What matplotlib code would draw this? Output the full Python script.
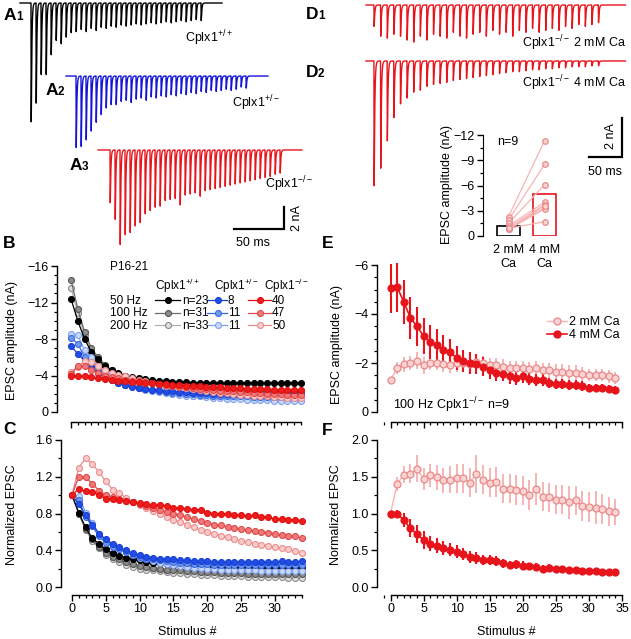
import numpy as np
import matplotlib
matplotlib.use('Agg')
import matplotlib.pyplot as plt
from matplotlib.ticker import MultipleLocator, NullFormatter

W, H = 631, 639
FS = 9
FS_LEG = 8.5

# ---- A: example traces, 200 Hz, peak amplitudes (nA) ----
a1_peaks = [10.8, 9.1, 6.5, 6.5, 4.7, 3.4, 3.7, 3.1, 2.7, 2.6, 2.4, 2.6, 2.3, 2.5, 2.2, 2.3, 2.1,
            2.2, 2.0, 2.1, 2.0, 1.9, 2.0, 1.9, 1.8, 1.9, 1.8, 1.7, 1.8, 1.7, 1.6, 1.7, 1.6, 1.5, 1.6]
a2_peaks = [6.5, 6.4, 5.8, 5.0, 4.2, 3.5, 2.9, 2.6, 2.6, 2.3, 2.2, 2.4, 2.1, 2.0, 2.2, 1.9, 2.0,
            1.8, 1.9, 1.7, 1.8, 1.6, 1.7, 1.5, 1.6, 1.4, 1.5, 1.3, 1.4, 1.3, 1.2, 1.3, 1.2, 1.0, 1.1]
a3_peaks = [4.8, 6.3, 8.6, 7.7, 7.5, 6.9, 6.6, 5.8, 5.5, 5.2, 5.1, 4.6, 4.5, 4.4, 5.0, 4.1, 4.0,
            3.9, 4.2, 3.7, 3.6, 3.5, 3.4, 3.3, 3.2, 3.1, 3.0, 2.9, 2.8, 2.7, 2.6, 2.5, 2.4, 2.2, 2.1]

# ---- D: Cplx1-/- traces, 100 Hz ----
d1_peaks = [1.1, 1.6, 1.7, 1.5, 1.6, 1.8, 1.9, 1.6, 1.8, 1.5, 1.6, 1.7, 1.4, 1.6, 1.7, 1.5, 1.4,
            1.6, 1.3, 1.5, 1.4, 1.6, 1.3, 1.4, 1.2, 1.4, 1.3, 1.2, 1.3, 1.1, 1.2, 1.0, 1.1, 1.0, 0.9]
d2_peaks = [6.4, 5.5, 4.1, 2.9, 2.2, 1.9, 1.6, 1.5, 1.3, 1.2, 1.15, 1.1, 1.0, 0.95, 0.9, 0.85, 0.8,
            0.75, 0.7, 0.65, 0.6, 0.55, 0.55, 0.5, 0.45, 0.45, 0.4, 0.4, 0.35, 0.35, 0.3, 0.3, 0.3, 0.25, 0.25]

# ---- D inset: first EPSC (nA), n=9 ----
inset_2mm = [-2.3, -1.9, -1.5, -1.2, -1.0, -0.9, -0.8, -0.8, -0.9]
inset_4mm = [-11.3, -8.5, -6.1, -4.0, -3.7, -3.3, -3.2, -3.6, -1.7]
inset_means = [-1.2, -5.0]
inset_labels = ['2 mM\nCa', '4 mM\nCa']

stim = np.arange(35)

# ---- B: EPSC amplitude (nA) ----
b_wt50 = [-12.4, -10.0, -8.0, -6.6, -5.8, -5.0, -4.6, -4.3, -4.0, -3.8, -3.7, -3.6, -3.5, -3.4, -3.4, -3.3, -3.3,
          -3.3, -3.2, -3.2, -3.2, -3.2, -3.2, -3.2, -3.2, -3.2, -3.2, -3.2, -3.2, -3.2, -3.2, -3.2, -3.2, -3.2, -3.2]
b_wt100 = [-14.5, -11.3, -8.8, -7.0, -6.0, -5.2, -4.6, -4.2, -3.9, -3.6, -3.4, -3.3, -3.2, -3.0, -2.9, -2.85, -2.8,
           -2.7, -2.65, -2.6, -2.55, -2.5, -2.45, -2.4, -2.4, -2.35, -2.3, -2.3, -2.3, -2.25, -2.25, -2.2, -2.2, -2.2, -2.2]
b_wt200 = [-13.6, -10.9, -8.4, -6.8, -5.7, -4.8, -4.1, -3.7, -3.3, -3.0, -2.8, -2.6, -2.4, -2.3, -2.2, -2.1, -2.0,
           -1.9, -1.8, -1.75, -1.7, -1.65, -1.6, -1.55, -1.5, -1.5, -1.45, -1.4, -1.4, -1.4, -1.35, -1.35, -1.3, -1.3, -1.3]
b_het50 = [-7.2, -6.4, -5.6, -4.9, -4.3, -3.7, -3.5, -3.2, -2.95, -2.75, -2.6, -2.5, -2.45, -2.4, -2.3, -2.25, -2.2,
           -2.15, -2.1, -2.1, -2.05, -2.0, -2.0, -2.0, -2.0, -2.0, -2.0, -2.0, -2.0, -2.0, -2.0, -2.0, -2.0, -2.0, -2.0]
b_het100 = [-8.1, -7.5, -6.0, -5.3, -4.5, -3.9, -3.5, -3.2, -3.0, -2.8, -2.6, -2.5, -2.4, -2.3, -2.2, -2.1, -2.05,
            -2.0, -1.95, -1.9, -1.85, -1.8, -1.8, -1.75, -1.7, -1.7, -1.7, -1.65, -1.65, -1.6, -1.6, -1.6, -1.6, -1.6, -1.6]
b_het200 = [-8.5, -8.4, -6.8, -6.0, -4.9, -4.3, -3.8, -3.4, -3.1, -2.8, -2.6, -2.4, -2.3, -2.2, -2.1, -2.0, -1.9,
            -1.8, -1.75, -1.7, -1.6, -1.55, -1.5, -1.45, -1.4, -1.4, -1.35, -1.3, -1.3, -1.3, -1.25, -1.25, -1.2, -1.2, -1.2]
b_ko50 = [-3.9, -4.0, -3.9, -3.8, -3.7, -3.6, -3.5, -3.45, -3.4, -3.3, -3.25, -3.2, -3.15, -3.1, -3.05, -3.0, -2.95,
          -2.9, -2.85, -2.8, -2.75, -2.7, -2.7, -2.65, -2.6, -2.6, -2.55, -2.5, -2.5, -2.5, -2.45, -2.45, -2.4, -2.4, -2.4]
b_ko100 = [-4.2, -5.0, -5.0, -4.6, -4.3, -4.0, -3.8, -3.7, -3.55, -3.45, -3.35, -3.25, -3.15, -3.05, -2.95, -2.85, -2.75,
           -2.7, -2.6, -2.55, -2.5, -2.4, -2.35, -2.3, -2.25, -2.2, -2.15, -2.1, -2.05, -2.0, -2.0, -1.95, -1.9, -1.9, -1.9]
b_ko200 = [-4.4, -4.9, -5.6, -5.5, -5.0, -4.6, -4.3, -4.1, -3.9, -3.7, -3.5, -3.35, -3.2, -3.05, -2.9, -2.8, -2.7,
           -2.6, -2.5, -2.4, -2.3, -2.2, -2.1, -2.05, -2.0, -1.9, -1.85, -1.8, -1.75, -1.7, -1.65, -1.6, -1.55, -1.5, -1.5]

# ---- C: normalized EPSC ----
c_wt50 = [1.0, 0.81, 0.65, 0.53, 0.47, 0.41, 0.37, 0.34, 0.32, 0.30, 0.29, 0.27, 0.26, 0.26, 0.25, 0.24, 0.24, 0.23,
          0.23, 0.23, 0.22, 0.22, 0.22, 0.22, 0.22, 0.22, 0.22, 0.22, 0.22, 0.22, 0.22, 0.22, 0.22, 0.22, 0.22]
c_wt100 = [1.0, 0.80, 0.63, 0.52, 0.43, 0.37, 0.33, 0.30, 0.27, 0.25, 0.23, 0.22, 0.21, 0.20, 0.19, 0.18, 0.18, 0.17,
           0.17, 0.16, 0.16, 0.16, 0.15, 0.15, 0.15, 0.15, 0.14, 0.14, 0.14, 0.14, 0.14, 0.14, 0.14, 0.14, 0.14]
c_wt200 = [1.0, 0.80, 0.62, 0.50, 0.42, 0.35, 0.30, 0.27, 0.24, 0.22, 0.20, 0.19, 0.18, 0.17, 0.16, 0.15, 0.15, 0.14,
           0.14, 0.13, 0.13, 0.13, 0.12, 0.12, 0.12, 0.12, 0.11, 0.11, 0.11, 0.11, 0.11, 0.11, 0.10, 0.10, 0.10]
c_het50 = [1.0, 0.90, 0.78, 0.68, 0.58, 0.52, 0.47, 0.43, 0.40, 0.37, 0.35, 0.33, 0.32, 0.31, 0.30, 0.30, 0.29, 0.29,
           0.28, 0.28, 0.28, 0.27, 0.27, 0.27, 0.27, 0.27, 0.27, 0.27, 0.27, 0.27, 0.27, 0.28, 0.27, 0.27, 0.28]
c_het100 = [1.0, 0.95, 0.76, 0.66, 0.55, 0.48, 0.44, 0.41, 0.38, 0.35, 0.33, 0.31, 0.30, 0.29, 0.28, 0.27, 0.26, 0.26,
            0.25, 0.25, 0.25, 0.24, 0.24, 0.24, 0.24, 0.24, 0.24, 0.24, 0.24, 0.24, 0.24, 0.24, 0.24, 0.24, 0.24]
c_het200 = [1.0, 0.99, 0.81, 0.70, 0.58, 0.50, 0.45, 0.41, 0.38, 0.35, 0.32, 0.30, 0.28, 0.26, 0.25, 0.24, 0.23, 0.22,
            0.21, 0.21, 0.20, 0.20, 0.19, 0.19, 0.18, 0.18, 0.18, 0.18, 0.17, 0.17, 0.17, 0.17, 0.17, 0.17, 0.17]
c_ko50 = [1.0, 1.07, 1.04, 1.03, 1.0, 0.96, 0.96, 0.95, 0.94, 0.92, 0.91, 0.90, 0.89, 0.89, 0.88, 0.86, 0.86, 0.85,
          0.84, 0.84, 0.81, 0.80, 0.80, 0.79, 0.78, 0.78, 0.77, 0.78, 0.76, 0.76, 0.74, 0.74, 0.73, 0.73, 0.72]
c_ko100 = [1.0, 1.20, 1.20, 1.12, 1.05, 1.00, 0.98, 0.96, 0.94, 0.92, 0.90, 0.88, 0.86, 0.84, 0.82, 0.80, 0.78, 0.76,
           0.74, 0.72, 0.70, 0.68, 0.67, 0.65, 0.64, 0.63, 0.62, 0.61, 0.60, 0.59, 0.58, 0.57, 0.56, 0.55, 0.53]
c_ko200 = [1.0, 1.30, 1.40, 1.34, 1.25, 1.15, 1.06, 1.02, 0.97, 0.93, 0.89, 0.86, 0.83, 0.80, 0.76, 0.73, 0.71, 0.68,
           0.65, 0.62, 0.60, 0.58, 0.56, 0.54, 0.52, 0.50, 0.49, 0.47, 0.46, 0.45, 0.43, 0.42, 0.41, 0.39, 0.37]

# ---- E / F: Cplx1-/- 100 Hz, 2 vs 4 mM Ca ----
e_2mm = [-1.3, -1.8, -1.95, -2.0, -2.1, -1.9, -2.0, -2.0, -1.95, -1.9, -2.0, -2.0, -1.95, -2.05, -2.0, -1.9, -1.9, -1.85,
         -1.8, -1.8, -1.8, -1.75, -1.8, -1.7, -1.7, -1.65, -1.65, -1.6, -1.6, -1.55, -1.5, -1.5, -1.5, -1.45, -1.4]
e_2mm_err = [0.1, 0.25, 0.3, 0.3, 0.35, 0.35, 0.3, 0.3, 0.3, 0.3, 0.35, 0.3, 0.3, 0.3, 0.3, 0.3, 0.3, 0.3,
             0.3, 0.3, 0.3, 0.3, 0.3, 0.3, 0.3, 0.3, 0.3, 0.3, 0.3, 0.3, 0.25, 0.25, 0.25, 0.25, 0.25]
e_4mm = [-5.05, -5.1, -4.5, -3.85, -3.5, -3.1, -2.85, -2.75, -2.55, -2.45, -2.2, -2.1, -2.0, -1.95, -1.85, -1.7, -1.6,
         -1.55, -1.45, -1.4, -1.45, -1.35, -1.3, -1.3, -1.2, -1.15, -1.15, -1.1, -1.1, -1.05, -1.0, -1.0, -1.0, -0.95, -0.9]
e_4mm_err = [1.0, 1.0, 0.9, 0.85, 0.8, 0.75, 0.7, 0.65, 0.6, 0.55, 0.5, 0.45, 0.45, 0.4, 0.4, 0.35, 0.35, 0.3,
             0.3, 0.3, 0.25, 0.25, 0.25, 0.25, 0.2, 0.2, 0.2, 0.2, 0.2, 0.2, 0.15, 0.15, 0.15, 0.15, 0.15]
f_2mm = [1.0, 1.40, 1.53, 1.54, 1.61, 1.47, 1.52, 1.49, 1.45, 1.46, 1.48, 1.48, 1.42, 1.54, 1.46, 1.42, 1.43, 1.34,
         1.34, 1.32, 1.31, 1.25, 1.33, 1.23, 1.22, 1.19, 1.19, 1.15, 1.18, 1.10, 1.09, 1.08, 1.06, 1.03, 1.02]
f_2mm_err = [0.0, 0.1, 0.12, 0.13, 0.18, 0.15, 0.16, 0.17, 0.17, 0.18, 0.2, 0.2, 0.2, 0.26, 0.2, 0.2, 0.2, 0.2,
             0.2, 0.2, 0.2, 0.2, 0.22, 0.2, 0.2, 0.2, 0.2, 0.22, 0.2, 0.2, 0.2, 0.22, 0.2, 0.2, 0.18]
f_4mm = [1.0, 1.0, 0.91, 0.80, 0.72, 0.64, 0.59, 0.56, 0.53, 0.51, 0.48, 0.45, 0.41, 0.39, 0.37, 0.37, 0.35, 0.32,
         0.30, 0.31, 0.29, 0.28, 0.27, 0.25, 0.26, 0.24, 0.24, 0.23, 0.23, 0.22, 0.22, 0.22, 0.21, 0.20, 0.20]
f_4mm_err = [0.0, 0.05, 0.1, 0.12, 0.12, 0.12, 0.1, 0.1, 0.09, 0.09, 0.09, 0.08, 0.08, 0.08, 0.07, 0.07, 0.07, 0.06,
             0.06, 0.06, 0.06, 0.05, 0.05, 0.05, 0.05, 0.05, 0.04, 0.04, 0.04, 0.04, 0.04, 0.04, 0.04, 0.04, 0.04]

# colours: (face, edge, line)
WT = [('#000000', '#000000', '#000000'), ('#8c8c8c', '#555555', '#6a6a6a'), ('#dedede', '#8a8a8a', '#b0b0b0')]
HET = [('#1f4ee8', '#1a3fd0', '#1a3fd0'), ('#6f9af2', '#3a6ae0', '#3a6ae0'), ('#c6d8fb', '#7ea0ee', '#7ea0ee')]
KO = [('#ee1c1c', '#e01010', '#e01010'), ('#f07a7a', '#e04848', '#e04848'), ('#fbcccc', '#ec8c8c', '#ec8c8c')]
RED = '#e8141c'
PINK_F, PINK_E, PINK_L = '#fcd2d2', '#e88a8a', '#f6b4b4'

plt.rcParams['font.family'] = ['Liberation Sans', 'DejaVu Sans']
plt.rcParams['mathtext.fontset'] = 'custom'
plt.rcParams['mathtext.rm'] = 'Liberation Sans'
plt.rcParams['mathtext.it'] = 'Liberation Sans'
plt.rcParams['font.size'] = FS

fig = plt.figure(figsize=(W / 100, H / 100), dpi=100)


def px_axes(left, right, top, bottom, xmap, ymap):
    ax = fig.add_axes([left / W, 1 - bottom / H, (right - left) / W, (bottom - top) / H])
    d0, p0, d1, p1 = xmap
    s = (d1 - d0) / (p1 - p0)
    ax.set_xlim(d0 + (left - p0) * s, d0 + (right - p0) * s)
    d0, p0, d1, p1 = ymap
    s = (d1 - d0) / (p1 - p0)
    ax.set_ylim(d0 + (bottom - p0) * s, d0 + (top - p0) * s)
    ax.patch.set_alpha(0)
    return ax


def igor_style(ax, left, bottom, yspine, xspine, xb, yb):
    for s in ['top', 'right']:
        ax.spines[s].set_visible(False)
    ax.spines['left'].set_position(('outward', (left - yspine) * 0.72))
    ax.spines['bottom'].set_position(('outward', (xspine - bottom) * 0.72))
    ax.spines['left'].set_bounds(*yb)
    ax.spines['bottom'].set_bounds(*xb)
    for s in ['left', 'bottom']:
        ax.spines[s].set_linewidth(1.0)
    ax.tick_params(which='major', direction='out', length=4, width=1.0, labelsize=FS, pad=2)
    ax.tick_params(which='minor', direction='out', length=2.2, width=0.9)


def epsc(peaks, interval, lead, tail, tr, td, dt=0.02):
    t = np.arange(0, lead + interval * (len(peaks) - 1) + tail, dt)
    s0 = np.arange(0, 20, dt)
    norm = ((1 - np.exp(-s0 / tr)) * np.exp(-s0 / td)).max()
    y = np.zeros_like(t)
    for k, a in enumerate(peaks):
        s = t - (lead + k * interval)
        m = s >= 0
        y[m] -= a * (1 - np.exp(-s[m] / tr)) * np.exp(-s[m] / td) / norm
    return t, y


def plot_group(ax, series, cols):
    for vals, fe in zip(series, cols):
        ax.plot(stim, vals, '-o', color=fe[2], lw=0.9, ms=4.3, mfc=fe[0], mec=fe[1], mew=0.8, clip_on=False)


# ---------- A traces ----------
axA = px_axes(0, 320, 0, 250, (0, 20, 100, 120), (0, 3, -10, 113))
axA.axis('off')
for peaks, col, t_off, base, lead, tail in [(a1_peaks, 'black', 0, 0, 11, 21),
                                            (a2_peaks, '#1414d8', 46, -6.64, 10, 22),
                                            (a3_peaks, RED, 78, -13.36, 12, 22)]:
    t, y = epsc(peaks, 5, lead, tail, 0.15, 0.55)
    axA.plot(t + t_off, y + base, color=col, lw=1.0)
axA.plot([214, 264, 264], [-20.55, -20.55, -18.55], color='black', lw=1.6, solid_joinstyle='miter')

# ---------- D traces ----------
axD = px_axes(320, 631, 0, 195, (0, 366, 50, 399), (0, 5, -2, 44))
axD.axis('off')
for peaks, base in [(d1_peaks, 0), (d2_peaks, -2.87)]:
    t, y = epsc(peaks, 10, 12, 41, 0.2, 0.9)
    axD.plot(t, y + base, color=RED, lw=1.0)
axD.plot([338, 388, 388], [-7.8, -7.8, -5.8], color='black', lw=1.6, solid_joinstyle='miter')

# ---------- D inset ----------
axI = px_axes(483, 572, 128, 236, (0, 508.5, 1, 544.5), (0, 236, -12, 135))
axI.bar([0, 1], inset_means, width=0.66, fill=False, edgecolor=['black', RED], lw=1.2)
for v2, v4 in zip(inset_2mm, inset_4mm):
    axI.plot([0, 1], [v2, v4], color=PINK_L, lw=0.9, zorder=2)
axI.plot(np.zeros(len(inset_2mm)), inset_2mm, 'o', ms=4.0, mfc=PINK_F, mec=PINK_E, mew=0.9, zorder=3)
axI.plot(np.ones(len(inset_4mm)), inset_4mm, 'o', ms=4.0, mfc=PINK_F, mec=PINK_E, mew=0.9, zorder=3)
for s in ['top', 'right', 'bottom']:
    axI.spines[s].set_visible(False)
axI.spines['left'].set_bounds(-12, 0)
axI.yaxis.set_major_locator(MultipleLocator(3))
axI.yaxis.set_minor_locator(MultipleLocator(1.5))
axI.tick_params(axis='y', which='major', direction='out', length=4, width=1.0, labelsize=FS, pad=2)
axI.tick_params(axis='y', which='minor', direction='out', length=2.2, width=0.9)
axI.set_xticks([0, 1], inset_labels)
axI.tick_params(axis='x', length=0, labelsize=FS, pad=6)

# ---------- B ----------
axB = px_axes(66, 306, 260, 415, (0, 71, 34, 301), (0, 412, -16, 266))
igor_style(axB, 66, 415, 57, 422, (0, 34), (-16, 0))
plot_group(axB, [b_wt200, b_wt100, b_wt50], WT[::-1])
plot_group(axB, [b_het200, b_het100, b_het50], HET[::-1])
plot_group(axB, [b_ko200, b_ko100, b_ko50], KO[::-1])
axB.yaxis.set_major_locator(MultipleLocator(4))
axB.yaxis.set_minor_locator(MultipleLocator(1))
axB.xaxis.set_major_locator(MultipleLocator(5))
axB.xaxis.set_minor_locator(MultipleLocator(1))
axB.xaxis.set_major_formatter(NullFormatter())

# ---------- C ----------
axC = px_axes(66, 306, 434, 590, (0, 72, 34, 302), (0, 587, 1.6, 440))
igor_style(axC, 66, 590, 61, 595, (0, 34), (0, 1.6))
plot_group(axC, [c_wt200, c_wt100, c_wt50], WT[::-1])
plot_group(axC, [c_het200, c_het100, c_het50], HET[::-1])
plot_group(axC, [c_ko200, c_ko100, c_ko50], KO[::-1])
axC.yaxis.set_major_locator(MultipleLocator(0.4))
axC.yaxis.set_minor_locator(MultipleLocator(0.2))
axC.yaxis.set_major_formatter(matplotlib.ticker.FormatStrFormatter('%.1f'))
axC.xaxis.set_major_locator(MultipleLocator(5))
axC.xaxis.set_minor_locator(MultipleLocator(1))

# ---------- E ----------
axE = px_axes(382, 628, 256, 415, (0, 390.5, 35, 622), (0, 412, -6, 265))
igor_style(axE, 382, 415, 377, 422, (0, 35), (-6, 0))
axE.errorbar(stim, e_2mm, yerr=e_2mm_err, fmt='-o', color=PINK_L, ecolor=PINK_L, elinewidth=1.4, lw=1.0,
             ms=5, mfc=PINK_F, mec=PINK_E, mew=0.9, clip_on=False)
axE.errorbar(stim, e_4mm, yerr=e_4mm_err, fmt='-o', color=RED, ecolor=RED, elinewidth=1.5, lw=1.2,
             ms=5, mfc=RED, mec=RED, mew=0.9, clip_on=False)
axE.yaxis.set_major_locator(MultipleLocator(2))
axE.yaxis.set_minor_locator(MultipleLocator(0.5))
axE.xaxis.set_major_locator(MultipleLocator(5))
axE.xaxis.set_minor_locator(MultipleLocator(1))
axE.xaxis.set_major_formatter(NullFormatter())

# ---------- F ----------
axF = px_axes(382, 628, 434, 590, (0, 390.5, 35, 622), (0, 587, 2.0, 440))
igor_style(axF, 382, 590, 377, 595, (0, 35), (0, 2.0))
axF.errorbar(stim, f_2mm, yerr=f_2mm_err, fmt='-o', color=PINK_L, ecolor=PINK_L, elinewidth=1.4, lw=1.0,
             ms=5, mfc=PINK_F, mec=PINK_E, mew=0.9, clip_on=False)
axF.errorbar(stim, f_4mm, yerr=f_4mm_err, fmt='-o', color=RED, ecolor=RED, elinewidth=1.5, lw=1.2,
             ms=5, mfc=RED, mec=RED, mew=0.9, clip_on=False)
axF.yaxis.set_major_locator(MultipleLocator(0.5))
axF.yaxis.set_minor_locator(MultipleLocator(0.25))
axF.yaxis.set_major_formatter(matplotlib.ticker.FormatStrFormatter('%.1f'))
axF.xaxis.set_major_locator(MultipleLocator(5))
axF.xaxis.set_minor_locator(MultipleLocator(1))

# ---------- overlay: labels, legends ----------
ov = fig.add_axes([0, 0, 1, 1])
ov.set_xlim(0, W)
ov.set_ylim(H, 0)
ov.axis('off')
ov.patch.set_alpha(0)


def txt(x, y, s, **kw):
    kw.setdefault('fontsize', FS)
    ov.text(x, y, s, **kw)


# panel letters
for x, y, L, sub in [(4, 20, 'A', '1'), (46, 95, 'A', '2'), (70, 170, 'A', '3'),
                     (306, 19, 'D', '1'), (306, 77, 'D', '2')]:
    txt(x, y, L, fontsize=12.5, fontweight='bold', va='baseline')
    txt(x + 12, y, sub, fontsize=8.5, fontweight='bold', va='baseline')
for x, y, L in [(3, 248, 'B'), (3, 434, 'C'), (322, 248, 'E'), (322, 435, 'F')]:
    txt(x, y, L, fontsize=12.5, fontweight='bold', va='baseline')

# trace labels
txt(185, 42, r'Cplx1$^{+/+}$', va='baseline')
txt(232, 107, r'Cplx1$^{+/-}$', va='baseline')
txt(265, 188, r'Cplx1$^{-/-}$', va='baseline')
txt(626, 47, r'Cplx1$^{-/-}$ 2 mM Ca', va='baseline', ha='right')
txt(626, 87, r'Cplx1$^{-/-}$ 4 mM Ca', va='baseline', ha='right')
txt(297, 218, '2 nA', rotation=90, ha='center', va='center')
txt(253, 243, '50 ms', ha='center', va='center')
txt(611, 136, '2 nA', rotation=90, ha='center', va='center')
txt(605, 172, '50 ms', ha='center', va='center')
txt(497, 145, 'n=9', va='baseline')

# axis labels
txt(12, 340, 'EPSC amplitude (nA)', rotation=90, ha='center', va='center')
txt(12, 515, 'Normalized EPSC', rotation=90, ha='center', va='center')
txt(337, 345, 'EPSC amplitude (nA)', rotation=90, ha='center', va='center')
txt(336, 515, 'Normalized EPSC', rotation=90, ha='center', va='center')
txt(447, 185, 'EPSC amplitude (nA)', rotation=90, ha='center', va='center')
txt(187, 632, 'Stimulus #', ha='center', va='center')
txt(506, 632, 'Stimulus #', ha='center', va='center')

# B legend
txt(110, 270, 'P16-21', va='baseline', fontsize=FS_LEG)
txt(155, 290, r'Cplx1$^{+/+}$', va='baseline', fontsize=FS_LEG)
txt(214, 290, r'Cplx1$^{+/-}$', va='baseline', fontsize=FS_LEG)
txt(264, 290, r'Cplx1$^{-/-}$', va='baseline', fontsize=FS_LEG)
rows = [(300, '50 Hz', 'n=23', '8', '40'), (312.5, '100 Hz', 'n=31', '11', '47'), (325, '200 Hz', 'n=33', '11', '50')]
for i, (y, hz, n1, n2, n3) in enumerate(rows):
    txt(110, y + 4, hz, va='baseline', fontsize=FS_LEG)
    for (x0, x1, xm, xt, lab, fe) in [(155, 180, 168, 182, n1, WT[i]), (207, 227, 218, 228, n2, HET[i]),
                                      (248, 271, 260, 272, n3, KO[i])]:
        ov.plot([x0, x1], [y, y], color=fe[2], lw=0.9)
        ov.plot([xm], [y], 'o', ms=4.3, mfc=fe[0], mec=fe[1], mew=0.8)
        txt(xt, y + 4, lab, va='baseline', fontsize=FS_LEG)

# E legend
ov.plot([547, 567], [321, 321], color=PINK_L, lw=1.0)
ov.plot([557], [321], 'o', ms=5, mfc=PINK_F, mec=PINK_E, mew=0.9)
txt(569, 325, '2 mM Ca', va='baseline')
ov.plot([547, 567], [334, 334], color=RED, lw=1.2)
ov.plot([557], [334], 'o', ms=5, mfc=RED, mec=RED)
txt(569, 338, '4 mM Ca', va='baseline')
txt(393, 409, r'100 Hz Cplx1$^{-/-}$ n=9', va='baseline')

fig.savefig('out.png', dpi=100)
